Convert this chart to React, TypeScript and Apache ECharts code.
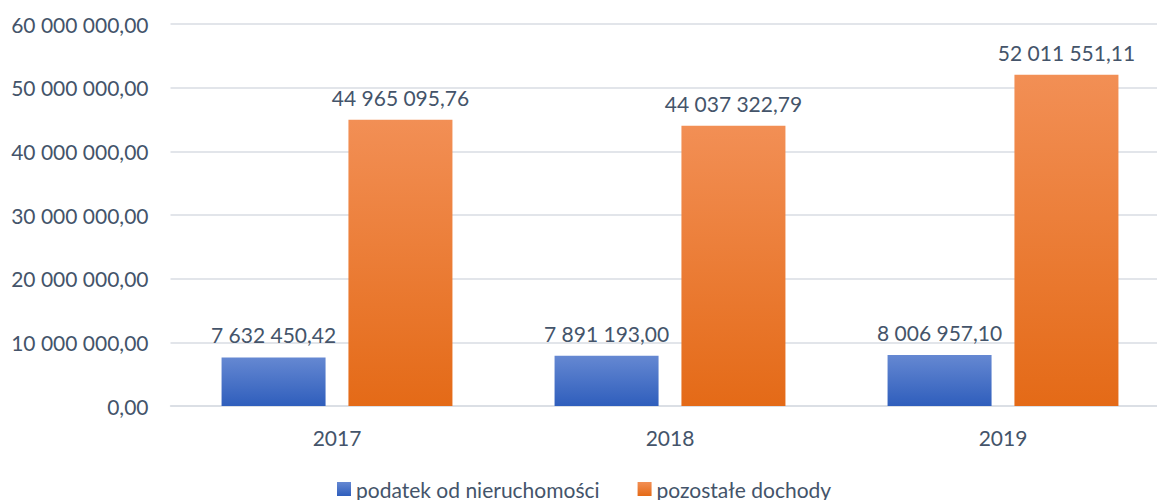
import React, { useEffect, useRef } from "react";
import * as echarts from "echarts";

const categories = ["2017", "2018", "2019"];
const seriesNames = ["podatek od nieruchomości", "pozostałe dochody"];
const podatek = [7632450.42, 7891193.0, 8006957.1];
const pozostale = [44965095.76, 44037322.79, 52011551.11];
const yTicks = { min: 0, max: 60000000, interval: 10000000 };

const fmt = (v: number) => {
  const [i, d] = v.toFixed(2).split(".");
  return i.replace(/\B(?=(\d{3})+(?!\d))/g, " ") + "," + d;
};

const TEXT = "#44546A";
const FONT = "Lato, 'Open Sans', sans-serif";
const FS = 21;

export default function App() {
  const ref = useRef<HTMLDivElement>(null);
  useEffect(() => {
    if (!ref.current) return;
    const chart = echarts.init(ref.current, undefined, { renderer: "svg" });
    const grad = (a: string, b: string) =>
      new echarts.graphic.LinearGradient(0, 0, 0, 1, [
        { offset: 0, color: a },
        { offset: 1, color: b },
      ]);
    chart.setOption({
      animation: false,
      backgroundColor: "#ffffff",
      textStyle: { fontFamily: FONT },
      grid: { left: 170.5, right: 0.5, top: 24, bottom: 94, containLabel: false },
      legend: {
        left: 337,
        top: 478,
        padding: 0,
        itemWidth: 14,
        itemHeight: 14,
        itemGap: 38,
        icon: "rect",
        textStyle: { color: TEXT, fontSize: FS, fontFamily: FONT, lineHeight: 22 },
        data: seriesNames,
      },
      xAxis: {
        type: "category",
        data: categories,
        axisLine: { lineStyle: { color: "#D9DDE3", width: 1.5 } },
        axisTick: { show: false },
        axisLabel: { color: TEXT, fontSize: FS, margin: 21, fontFamily: FONT },
      },
      yAxis: {
        type: "value",
        min: yTicks.min,
        max: yTicks.max,
        interval: yTicks.interval,
        axisLine: { show: false },
        axisTick: { show: false },
        splitLine: { lineStyle: { color: "#D9DDE3", width: 1.5 } },
        axisLabel: {
          color: TEXT,
          fontSize: FS,
          margin: 22,
          fontFamily: FONT,
          formatter: (v: number) => fmt(v),
        },
      },
      series: [
        {
          name: seriesNames[0],
          type: "bar",
          data: podatek,
          barWidth: 104,
          barGap: "22%",
          itemStyle: { color: grad("#6588D2", "#2F5EBC") },
          label: {
            show: true,
            position: "top",
            distance: 12,
            color: TEXT,
            fontSize: FS,
            fontFamily: FONT,
            formatter: (p: any) => fmt(p.value),
          },
        },
        {
          name: seriesNames[1],
          type: "bar",
          data: pozostale,
          barWidth: 104,
          barGap: "22%",
          itemStyle: { color: grad("#F28F55", "#E46A17") },
          label: {
            show: true,
            position: "top",
            distance: 12,
            color: TEXT,
            fontSize: FS,
            fontFamily: FONT,
            formatter: (p: any) => fmt(p.value),
          },
        },
      ],
    });
    return () => chart.dispose();
  }, []);
  return (
    <div
      style={{
        position: "fixed",
        left: 0,
        top: 0,
        width: 1157,
        height: 500,
        overflow: "hidden",
      }}
    >
      <div ref={ref} style={{ width: 1170, height: 500 }} />
    </div>
  );
}
